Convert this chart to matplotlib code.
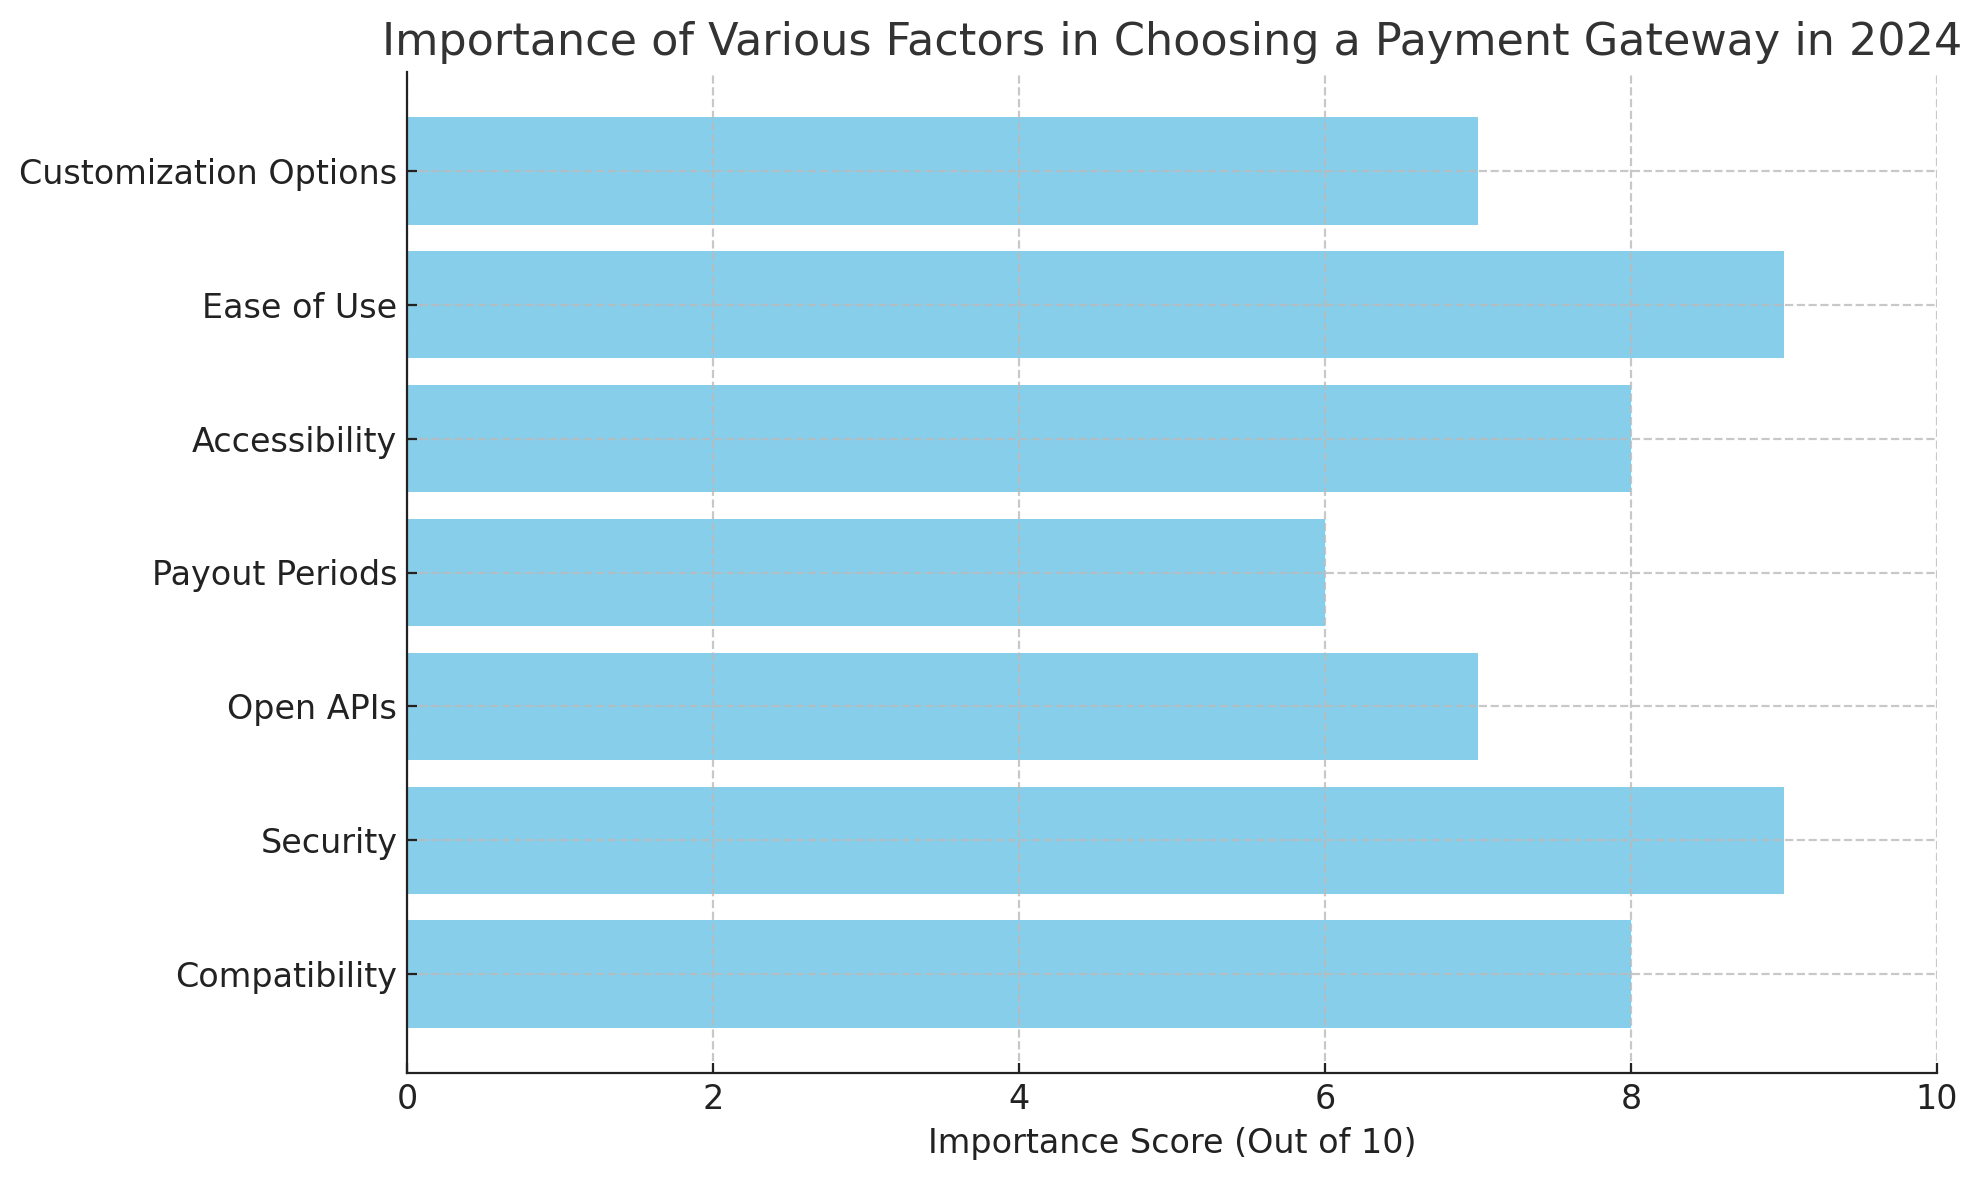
import matplotlib
matplotlib.use('Agg')
import matplotlib.pyplot as plt

factors = ['Compatibility', 'Security', 'Open APIs', 'Payout Periods',
           'Accessibility', 'Ease of Use', 'Customization Options']
scores = [8, 9, 7, 6, 8, 9, 7]


def show():

    fig = plt.figure(figsize=(9.915, 5.9), dpi=200)
    ax = fig.add_axes([407 / 1983, 1 - 1073 / 1180, (1937 - 407) / 1983, (1073 - 72) / 1180])
    ax.barh(factors, scores, color='skyblue', height=0.8)
    ax.set_xlim(0, 10)
    ax.set_xlabel('Importance Score (Out of 10)', fontsize=12, color='#222222')
    ax.set_title('Importance of Various Factors in Choosing a Payment Gateway in 2024',
                 fontsize=16, color='#333333')
    ax.tick_params(labelsize=12, colors='#222222', direction='in')
    ax.grid(True, linestyle='--', color='#bbbbbb', alpha=0.8)
    ax.spines['top'].set_visible(False)
    ax.spines['right'].set_visible(False)
    for s in ['left', 'bottom']:
        ax.spines[s].set_color('#222222')
    fig.savefig('out.png', dpi=200)

    return


if __name__ == '__main__':

    show()
